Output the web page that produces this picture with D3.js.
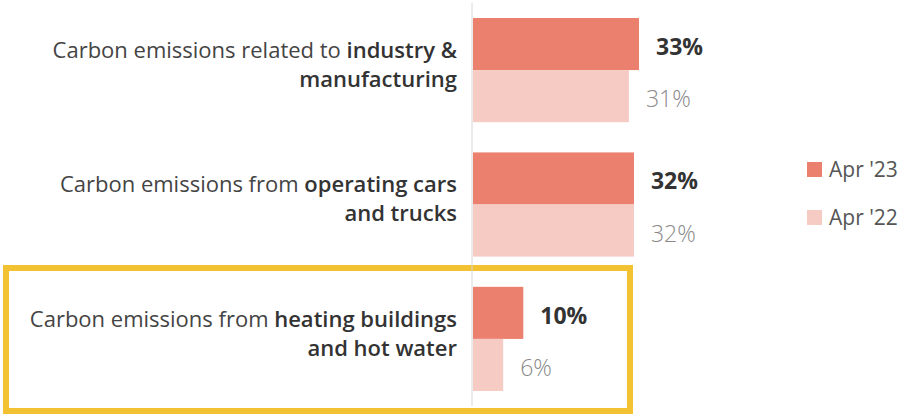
<!DOCTYPE html>
<html lang="en">
<head>
<meta charset="utf-8">
<title>Carbon emissions</title>
<script src="https://cdn.jsdelivr.net/npm/d3@7"></script>
<style>
  body { margin: 0; background: #fff; }
  svg { display: block; font-family: "Open Sans", "Noto Sans", sans-serif; }
</style>
</head>
<body>
<div id="chart"></div>
<script>

// data
var categories = ["industry", "cars", "heating"];
var labelLines = [
  [["Carbon emissions related to ", "industry &"], ["", "manufacturing"]],
  [["Carbon emissions from ", "operating cars"], ["", "and trucks"]],
  [["Carbon emissions from ", "heating buildings"], ["", "and hot water"]]
];
var seriesNames = ["Apr '23", "Apr '22"];
var apr23 = [33, 32, 10];
var apr22 = [31, 32, 6];
var colors = ["#ea806d", "#f6cbc4"];

var w = 904, h = 420;

var svg = d3.select("#chart").append("svg")
  .attr("width", w)
  .attr("height", h);

var x = d3.scaleLinear().domain([0, 33]).range([473, 639]);

var y = d3.scaleBand()
  .domain(categories)
  .range([18, 391])
  .paddingInner(0.225)
  .paddingOuter(0);

var ySub = d3.scaleBand()
  .domain(seriesNames)
  .range([0, y.bandwidth()]);

var color = d3.scaleOrdinal().domain(seriesNames).range(colors);

// highlight box round the last category
svg.append("rect")
  .attr("x", 6)
  .attr("y", 268)
  .attr("width", 624)
  .attr("height", 143)
  .attr("fill", "none")
  .attr("stroke", "#f2c232")
  .attr("stroke-width", 6);

// baseline
svg.append("line")
  .attr("x1", x(0) - 1).attr("x2", x(0) - 1)
  .attr("y1", 3).attr("y2", 406)
  .attr("stroke", "#d6d6d6")
  .attr("stroke-width", 1);

var rows = categories.map(function(c, i) {
  return {cat: c, lines: labelLines[i], values: [
    {series: seriesNames[0], value: apr23[i]},
    {series: seriesNames[1], value: apr22[i]}
  ]};
});

var groups = svg.selectAll("g.group")
  .data(rows)
  .enter()
  .append("g")
  .attr("class", "group")
  .attr("transform", function(d) { return "translate(0," + y(d.cat) + ")"; });

groups.selectAll("rect")
  .data(function(d) { return d.values; })
  .enter()
  .append("rect")
  .attr("x", x(0))
  .attr("y", function(d) { return ySub(d.series); })
  .attr("width", function(d) { return x(d.value) - x(0); })
  .attr("height", ySub.bandwidth())
  .attr("fill", function(d) { return color(d.series); });

// value labels
groups.selectAll("text.value")
  .data(function(d) { return d.values; })
  .enter()
  .append("text")
  .attr("class", "value")
  .attr("x", function(d) { return x(d.value) + 17; })
  .attr("y", function(d) { return ySub(d.series) + ySub.bandwidth() / 2 + 11; })
  .attr("font-size", 23)
  .attr("font-weight", function(d, i) { return i == 0 ? 700 : 300; })
  .attr("fill", function(d, i) { return i == 0 ? "#333" : "#8a8a8a"; })
  .text(function(d) { return d.value + "%"; });

// category labels, two lines each, bold part at the end
groups.selectAll("text.cat")
  .data(function(d) { return d.lines; })
  .enter()
  .append("text")
  .attr("class", "cat")
  .attr("text-anchor", "end")
  .attr("x", 457)
  .attr("y", function(d, j) { return y.bandwidth() / 2 + (j == 0 ? -12 : 17); })
  .attr("font-size", 22)
  .attr("fill", "#444")
  .each(function(line) {
    var t = d3.select(this);
    if (line[0]) t.append("tspan").text(line[0]);
    t.append("tspan")
      .attr("font-weight", 600)
      .attr("fill", "#333")
      .text(line[1]);
  });

// legend
var legend = svg.selectAll("g.legend")
  .data(seriesNames)
  .enter()
  .append("g")
  .attr("class", "legend")
  .attr("transform", function(d, i) { return "translate(807," + (162 + i * 48) + ")"; });

legend.append("rect")
  .attr("width", 15)
  .attr("height", 15)
  .attr("fill", function(d) { return color(d); });

legend.append("text")
  .attr("x", 22)
  .attr("y", 15)
  .attr("font-size", 21)
  .attr("fill", "#555")
  .text(function(d) { return d; });

</script>
</body>
</html>
